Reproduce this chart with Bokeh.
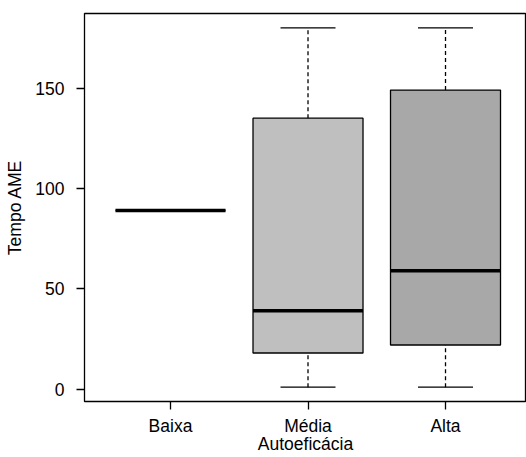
from bokeh.plotting import figure
from bokeh.models import Range1d, FixedTicker
from bokeh.embed import file_html
from bokeh.resources import INLINE

# --- data ---
categories = ["Baixa", "Média", "Alta"]
positions = [1, 2, 3]
lower_whisker = [89, 1, 1]
q1 = [89, 18, 22]
median = [89, 39, 59]
q3 = [89, 135, 149]
upper_whisker = [89, 180, 180]
y_ticks = [0, 50, 100, 150]

box_colors = ["#FFFFFF", "#BFBFBF", "#A8A8A8"]
FONT = "Liberation Sans"
FS = "17.5px"
half_box = 0.4
half_staple = 0.2

p = figure(width=526, height=457, output_backend="svg", toolbar_location=None,
           x_range=Range1d(0.3745, 3.589), y_range=Range1d(-6.16, 187.16),
           min_border_left=84, min_border_right=0, min_border_top=13, min_border_bottom=56)
p.xgrid.visible = False
p.ygrid.visible = False
p.outline_line_color = "black"
p.outline_line_width = 1.3
p.background_fill_color = "white"
p.border_fill_color = "white"

left = [x - half_box for x in positions]
right = [x + half_box for x in positions]

# whiskers (dashed)
p.segment(x0=positions, y0=q3, x1=positions, y1=upper_whisker,
          line_color="black", line_width=1.3, line_dash="4 3")
p.segment(x0=positions, y0=lower_whisker, x1=positions, y1=q1,
          line_color="black", line_width=1.3, line_dash="4 3")
# staples
p.segment(x0=[x - half_staple for x in positions], y0=upper_whisker,
          x1=[x + half_staple for x in positions], y1=upper_whisker,
          line_color="black", line_width=1.3)
p.segment(x0=[x - half_staple for x in positions], y0=lower_whisker,
          x1=[x + half_staple for x in positions], y1=lower_whisker,
          line_color="black", line_width=1.3)
# boxes
p.quad(left=left, right=right, bottom=q1, top=q3, fill_color=box_colors,
       line_color="black", line_width=1.3)
# medians
p.segment(x0=left, y0=median, x1=right, y1=median, line_color="black", line_width=3.5)

# axes
for ax in (p.xaxis[0], p.yaxis[0]):
    ax.axis_line_color = None
    ax.major_tick_out = 8
    ax.major_tick_in = 0
    ax.minor_tick_line_color = None
    ax.major_tick_line_color = "black"
    ax.major_tick_line_width = 1.3
    ax.major_label_text_font = FONT
    ax.major_label_text_font_size = FS
    ax.major_label_text_color = "black"
    ax.axis_label_text_font = FONT
    ax.axis_label_text_font_size = FS
    ax.axis_label_text_font_style = "normal"
    ax.axis_label_text_color = "black"

p.xaxis.ticker = FixedTicker(ticks=positions)
p.xaxis.major_label_overrides = {x: c for x, c in zip(positions, categories)}
p.xaxis.major_label_standoff = 6
p.xaxis.axis_label = "Autoeficácia"
p.xaxis.axis_label_standoff = -5

p.yaxis.ticker = FixedTicker(ticks=y_ticks)
p.yaxis.major_label_orientation = "horizontal"
p.yaxis.major_label_standoff = 12
p.yaxis.axis_label = "Tempo AME"
p.yaxis.axis_label_standoff = 7

open("out.html", "w").write(file_html(p, INLINE))
